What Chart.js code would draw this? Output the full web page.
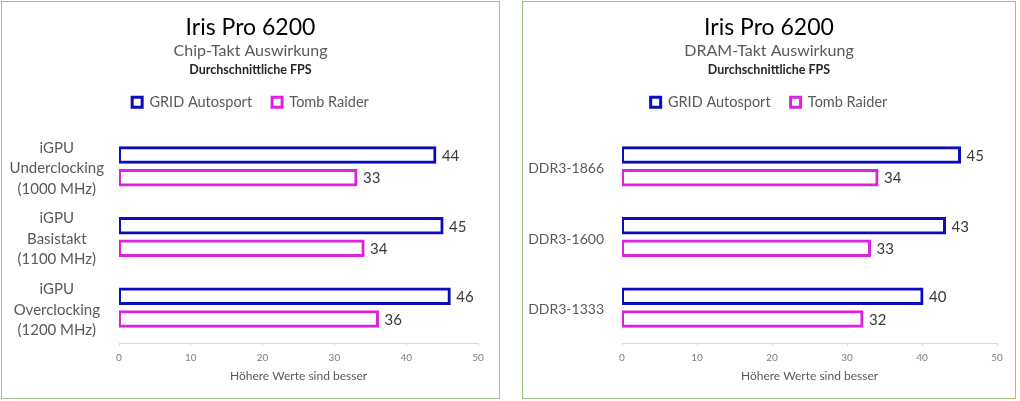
<!DOCTYPE html>
<html><head><meta charset="utf-8">
<script src="https://cdn.jsdelivr.net/npm/chart.js@4/dist/chart.umd.min.js"></script>
<style>
html,body{margin:0;padding:0;background:#fff;}
.panel{position:absolute;top:1px;height:398px;box-sizing:border-box;border:1px solid #a3c08a;background:#fff;}
#p1{left:1px;width:499px;}
#p2{left:522px;width:494px;}
canvas{display:block;}
</style></head><body>
<div class="panel" id="p1"><canvas id="c1" width="497" height="396"></canvas></div>
<div class="panel" id="p2"><canvas id="c2" width="492" height="396"></canvas></div>
<script>
const chipCategories = [['iGPU','Underclocking','(1000 MHz)'],['iGPU','Basistakt','(1100 MHz)'],['iGPU','Overclocking','(1200 MHz)']];
const chipGrid = [44, 45, 46];
const chipTomb = [33, 34, 36];
const dramCategories = ['DDR3-1866', 'DDR3-1600', 'DDR3-1333'];
const dramGrid = [45, 43, 40];
const dramTomb = [34, 33, 32];
const seriesNames = ['GRID Autosport', 'Tomb Raider'];
const xTickValues = [0, 10, 20, 30, 40, 50];
const mainTitle = 'Iris Pro 6200';
const chipSubtitle = 'Chip-Takt Auswirkung';
const dramSubtitle = 'DRAM-Takt Auswirkung';
const thirdLine = 'Durchschnittliche FPS';
const axisTitle = 'Höhere Werte sind besser';

const BLUE = '#0c0cbf';
const PINK = '#dd22dd';
Chart.defaults.font.family = 'Lato, "Open Sans", sans-serif';

const legendGap = {
  id: 'legendGap',
  afterInit(chart) {
    const lg = chart.legend;
    if (lg && !lg._patched) {
      const f = lg.fit;
      lg.fit = function () { f.call(this); this.height += 11.5; };
      lg._patched = true;
    }
  }
};

const valueLabels = {
  id: 'valueLabels',
  afterDatasetsDraw(chart) {
    const ctx = chart.ctx;
    ctx.save();
    ctx.font = '15px Lato, sans-serif';
    ctx.fillStyle = '#3a3a3a';
    ctx.textAlign = 'left';
    ctx.textBaseline = 'middle';
    chart.data.datasets.forEach((ds, i) => {
      chart.getDatasetMeta(i).data.forEach((el, j) => {
        ctx.fillText(String(ds.data[j]), el.x + 7, el.y + 1);
      });
    });
    ctx.restore();
  }
};

const thirdLinePlugin = {
  id: 'thirdLine',
  afterDraw(chart) {
    const ctx = chart.ctx;
    ctx.save();
    ctx.font = 'bold 12.5px Lato, sans-serif';
    ctx.fillStyle = '#262626';
    ctx.textAlign = 'center';
    ctx.textBaseline = 'middle';
    ctx.fillText(thirdLine, chart.width / 2, 68);
    ctx.restore();
  }
};

function makeChart(id, cats, grid, tomb, subtitle, yWidth, rightGap, crossAlign, yPad, yFont) {
  return new Chart(document.getElementById(id), {
    type: 'bar',
    data: {
      labels: cats,
      datasets: [
        { label: seriesNames[0], data: grid, backgroundColor: '#ffffff', borderColor: BLUE, borderWidth: 3, borderSkipped: false, inflateAmount: 1.5 },
        { label: seriesNames[1], data: tomb, backgroundColor: '#ffffff', borderColor: PINK, borderWidth: 3, borderSkipped: false, inflateAmount: 1.5 }
      ]
    },
    options: {
      indexAxis: 'y',
      responsive: false,
      animation: false,
      devicePixelRatio: 1,
      categoryPercentage: 0.64,
      barPercentage: 0.64,
      layout: { padding: 0 },
      plugins: {
        title: { display: true, text: mainTitle, color: '#000', font: { size: 23, weight: 'normal' }, padding: { top: 12, bottom: 0 } },
        subtitle: { display: true, text: subtitle, color: '#595959', font: { size: 16, weight: 'normal' }, padding: { top: 0, bottom: 14.2 } },
        legend: { display: true, position: 'top', labels: { color: '#595959', font: { size: 14.5 }, boxWidth: 10, boxHeight: 10, padding: 20 } },
        tooltip: { enabled: false }
      },
      scales: {
        x: {
          min: 0, max: 50,
          afterBuildTicks(scale) { scale.ticks = xTickValues.map(v => ({ value: v })); },
          afterFit(scale) { scale.height = 55; },
          grid: { display: true, drawOnChartArea: false, drawTicks: true, tickLength: 3, color: '#d9d9d9' },
          border: { display: true, color: '#d9d9d9' },
          ticks: { color: '#7f7f7f', font: { size: 10 }, padding: 6 },
          title: { display: true, text: axisTitle, color: '#595959', font: { size: 12 }, padding: { top: 0, bottom: 15 } }
        },
        y: {
          afterFit(scale) { scale.width = yWidth; },
          grid: { display: false },
          border: { display: false },
          ticks: { color: '#595959', font: { size: yFont, lineHeight: 1.37 }, padding: yPad, crossAlign: crossAlign, labelOffset: 2 }
        },
        yRightGap: {
          type: 'linear', position: 'right', min: 0, max: 1,
          afterFit(scale) { scale.width = rightGap; },
          grid: { display: false },
          border: { display: false },
          ticks: { display: false }
        }
      }
    },
    plugins: [legendGap, valueLabels, thirdLinePlugin]
  });
}

makeChart('c1', chipCategories, chipGrid, chipTomb, chipSubtitle, 117, 21, 'center', 7, 15);
makeChart('c2', dramCategories, dramGrid, dramTomb, dramSubtitle, 99, 18, 'near', 10, 14);
</script>
</body></html>
